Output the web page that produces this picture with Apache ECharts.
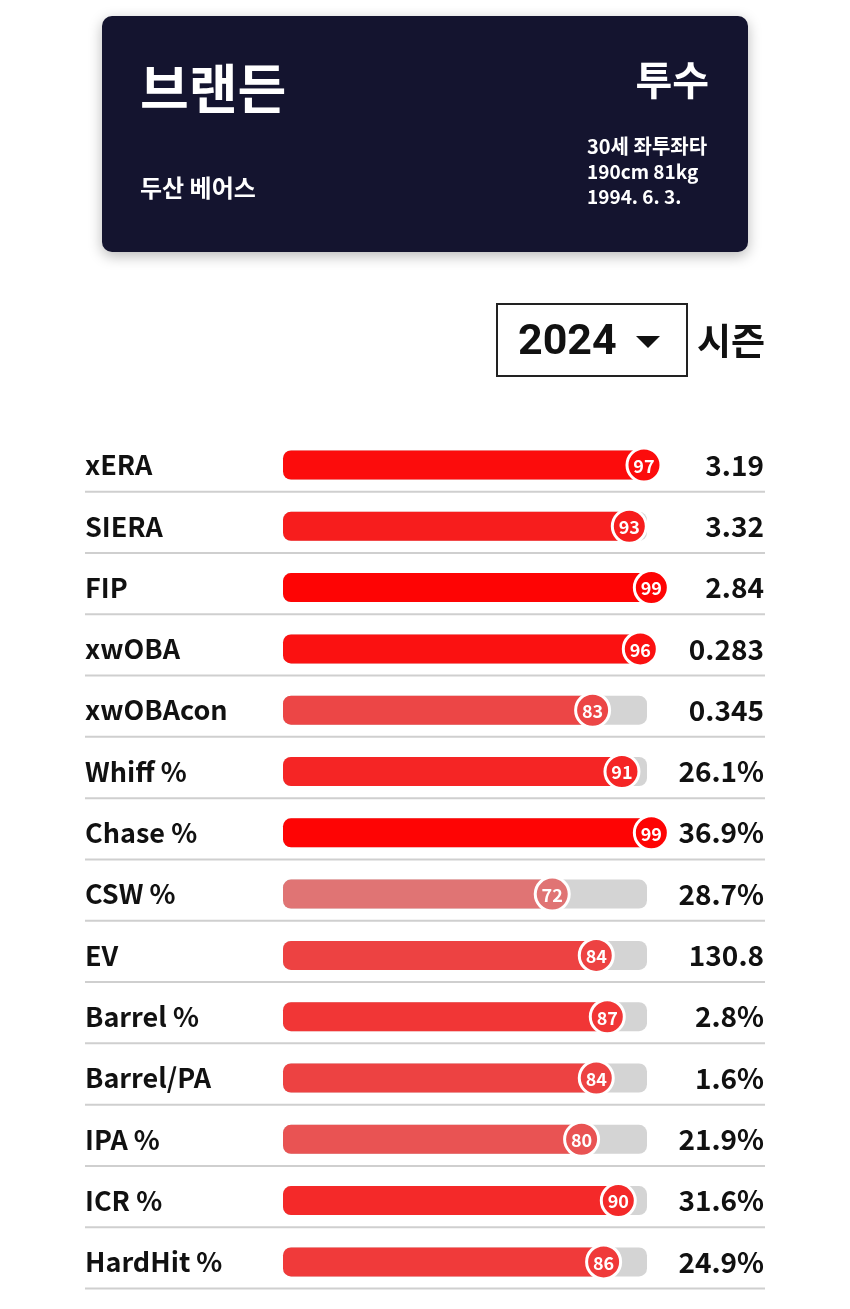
<!DOCTYPE html>
<html><head><meta charset="utf-8">
<script src="https://cdn.jsdelivr.net/npm/echarts@6/dist/echarts.min.js"></script>
<style>html,body{margin:0;padding:0;background:#fff}#c{width:850px;height:1309px}</style>
</head><body><div id="c"></div>
<script>
const playerName = '브랜든';
const position = '투수';
const team = '두산 베어스';
const infoLines = ['30세 좌투좌타', '190cm 81kg', '1994. 6. 3.'];
const season = '2024';
const seasonLabel = '시즌';

const categories = ['xERA','SIERA','FIP','xwOBA','xwOBAcon','Whiff %','Chase %','CSW %','EV','Barrel %','Barrel/PA','IPA %','ICR %','HardHit %'];
const percentiles = [97,93,99,96,83,91,99,72,84,87,84,80,90,86];
const statValues = ['3.19','3.32','2.84','0.283','0.345','26.1%','36.9%','28.7%','130.8','2.8%','1.6%','21.9%','31.6%','24.9%'];

const KR = '"Noto Sans CJK KR", "Noto Sans", sans-serif';

function pctColor(v) {
  const t = Math.max(0, Math.min(1, (v - 70) / 30));
  const c0 = [222, 124, 124], c1 = [255, 0, 0];
  const c = c0.map((a, i) => Math.round(a + (c1[i] - a) * t));
  return 'rgb(' + c.join(',') + ')';
}

const chart = echarts.init(document.getElementById('c'), null, {renderer: 'canvas'});
const rowH = 61.3;
const firstCenter = 465;

chart.setOption({
  animation: false,
  backgroundColor: '#ffffff',
  grid: {left: 288, width: 367, top: firstCenter - rowH / 2, height: rowH * categories.length},
  xAxis: {type: 'value', min: 0, max: 100, show: false},
  yAxis: [{
    type: 'category', data: categories, inverse: true,
    axisLine: {show: false}, axisTick: {show: false}, splitLine: {show: false},
    axisLabel: {align: 'left', margin: 203, fontFamily: KR, fontWeight: 'bold', fontSize: 27, color: '#111'}
  }, {
    type: 'category', data: statValues, inverse: true, position: 'right',
    axisLine: {show: false}, axisTick: {show: false}, splitLine: {show: false},
    axisLabel: {align: 'right', margin: 109, fontFamily: KR, fontWeight: 'bold', fontSize: 28, color: '#111'}
  }],
  graphic: [
    {type: 'rect', shape: {x: 102, y: 16, width: 646, height: 236, r: 10},
     style: {fill: '#14142f', shadowBlur: 14, shadowColor: 'rgba(0,0,0,0.28)', shadowOffsetY: 4}},
    {type: 'text', x: 140, y: 89, style: {text: playerName, fill: '#fff', font: 'bold 53px ' + KR, verticalAlign: 'middle'}},
    {type: 'text', x: 709, y: 80, style: {text: position, fill: '#fff', font: 'bold 40px ' + KR, align: 'right', verticalAlign: 'middle'}},
    {type: 'text', x: 140, y: 188, style: {text: team, fill: '#fff', font: 'bold 24px ' + KR, verticalAlign: 'middle'}},
    {type: 'text', x: 587, y: 146, style: {text: infoLines[0], fill: '#fff', font: 'bold 20px ' + KR, verticalAlign: 'middle'}},
    {type: 'text', x: 587, y: 172, style: {text: infoLines[1], fill: '#fff', font: 'bold 19px ' + KR, verticalAlign: 'middle'}},
    {type: 'text', x: 587, y: 197, style: {text: infoLines[2], fill: '#fff', font: 'bold 19px ' + KR, verticalAlign: 'middle'}},
    {type: 'rect', shape: {x: 497, y: 304, width: 190, height: 72}, style: {fill: '#fff', stroke: '#222', lineWidth: 2}},
    {type: 'text', x: 518, y: 343, style: {text: season, fill: '#111', font: 'bold 43px Roboto, "Liberation Sans", sans-serif', verticalAlign: 'middle'}},
    {type: 'polygon', shape: {points: [[636, 336], [660, 336], [648, 348]]}, style: {fill: '#111'}},
    {type: 'text', x: 697, y: 341, style: {text: seasonLabel, fill: '#111', font: 'bold 37px ' + KR, verticalAlign: 'middle'}}
  ],
  series: [{
    type: 'custom',
    coordinateSystem: 'cartesian2d',
    data: percentiles.map((p, i) => [p, i]),
    encode: {x: 0, y: 1},
    renderItem: function (params, api) {
      const v = api.value(0);
      const idx = api.value(1);
      const s = api.coord([0, idx]);
      const e = api.coord([v, idx]);
      const f = api.coord([100, idx]);
      const band = api.size([0, 1])[1];
      const cy = s[1];
      const h = 29;
      const col = pctColor(v);
      return {
        type: 'group',
        children: [
          {type: 'line', shape: {x1: 85, y1: cy + band / 2 - 4, x2: 765, y2: cy + band / 2 - 4}, style: {stroke: '#cfcfcf', lineWidth: 2}},
          {type: 'rect', shape: {x: s[0] - 5, y: cy - h / 2, width: f[0] - 8 - (s[0] - 5), height: h, r: 8}, style: {fill: '#d4d4d4'}},
          {type: 'rect', shape: {x: s[0] - 5, y: cy - h / 2, width: e[0] - (s[0] - 5), height: h, r: 8}, style: {fill: col}},
          {type: 'circle', shape: {cx: e[0], cy: cy, r: 17}, style: {fill: col, stroke: '#fff', lineWidth: 3}},
          {type: 'text', x: e[0], y: cy + 1, style: {text: String(v), fill: '#fff', font: 'bold 18px ' + KR, align: 'center', verticalAlign: 'middle'}}
        ]
      };
    }
  }]
});
</script>
</body></html>
